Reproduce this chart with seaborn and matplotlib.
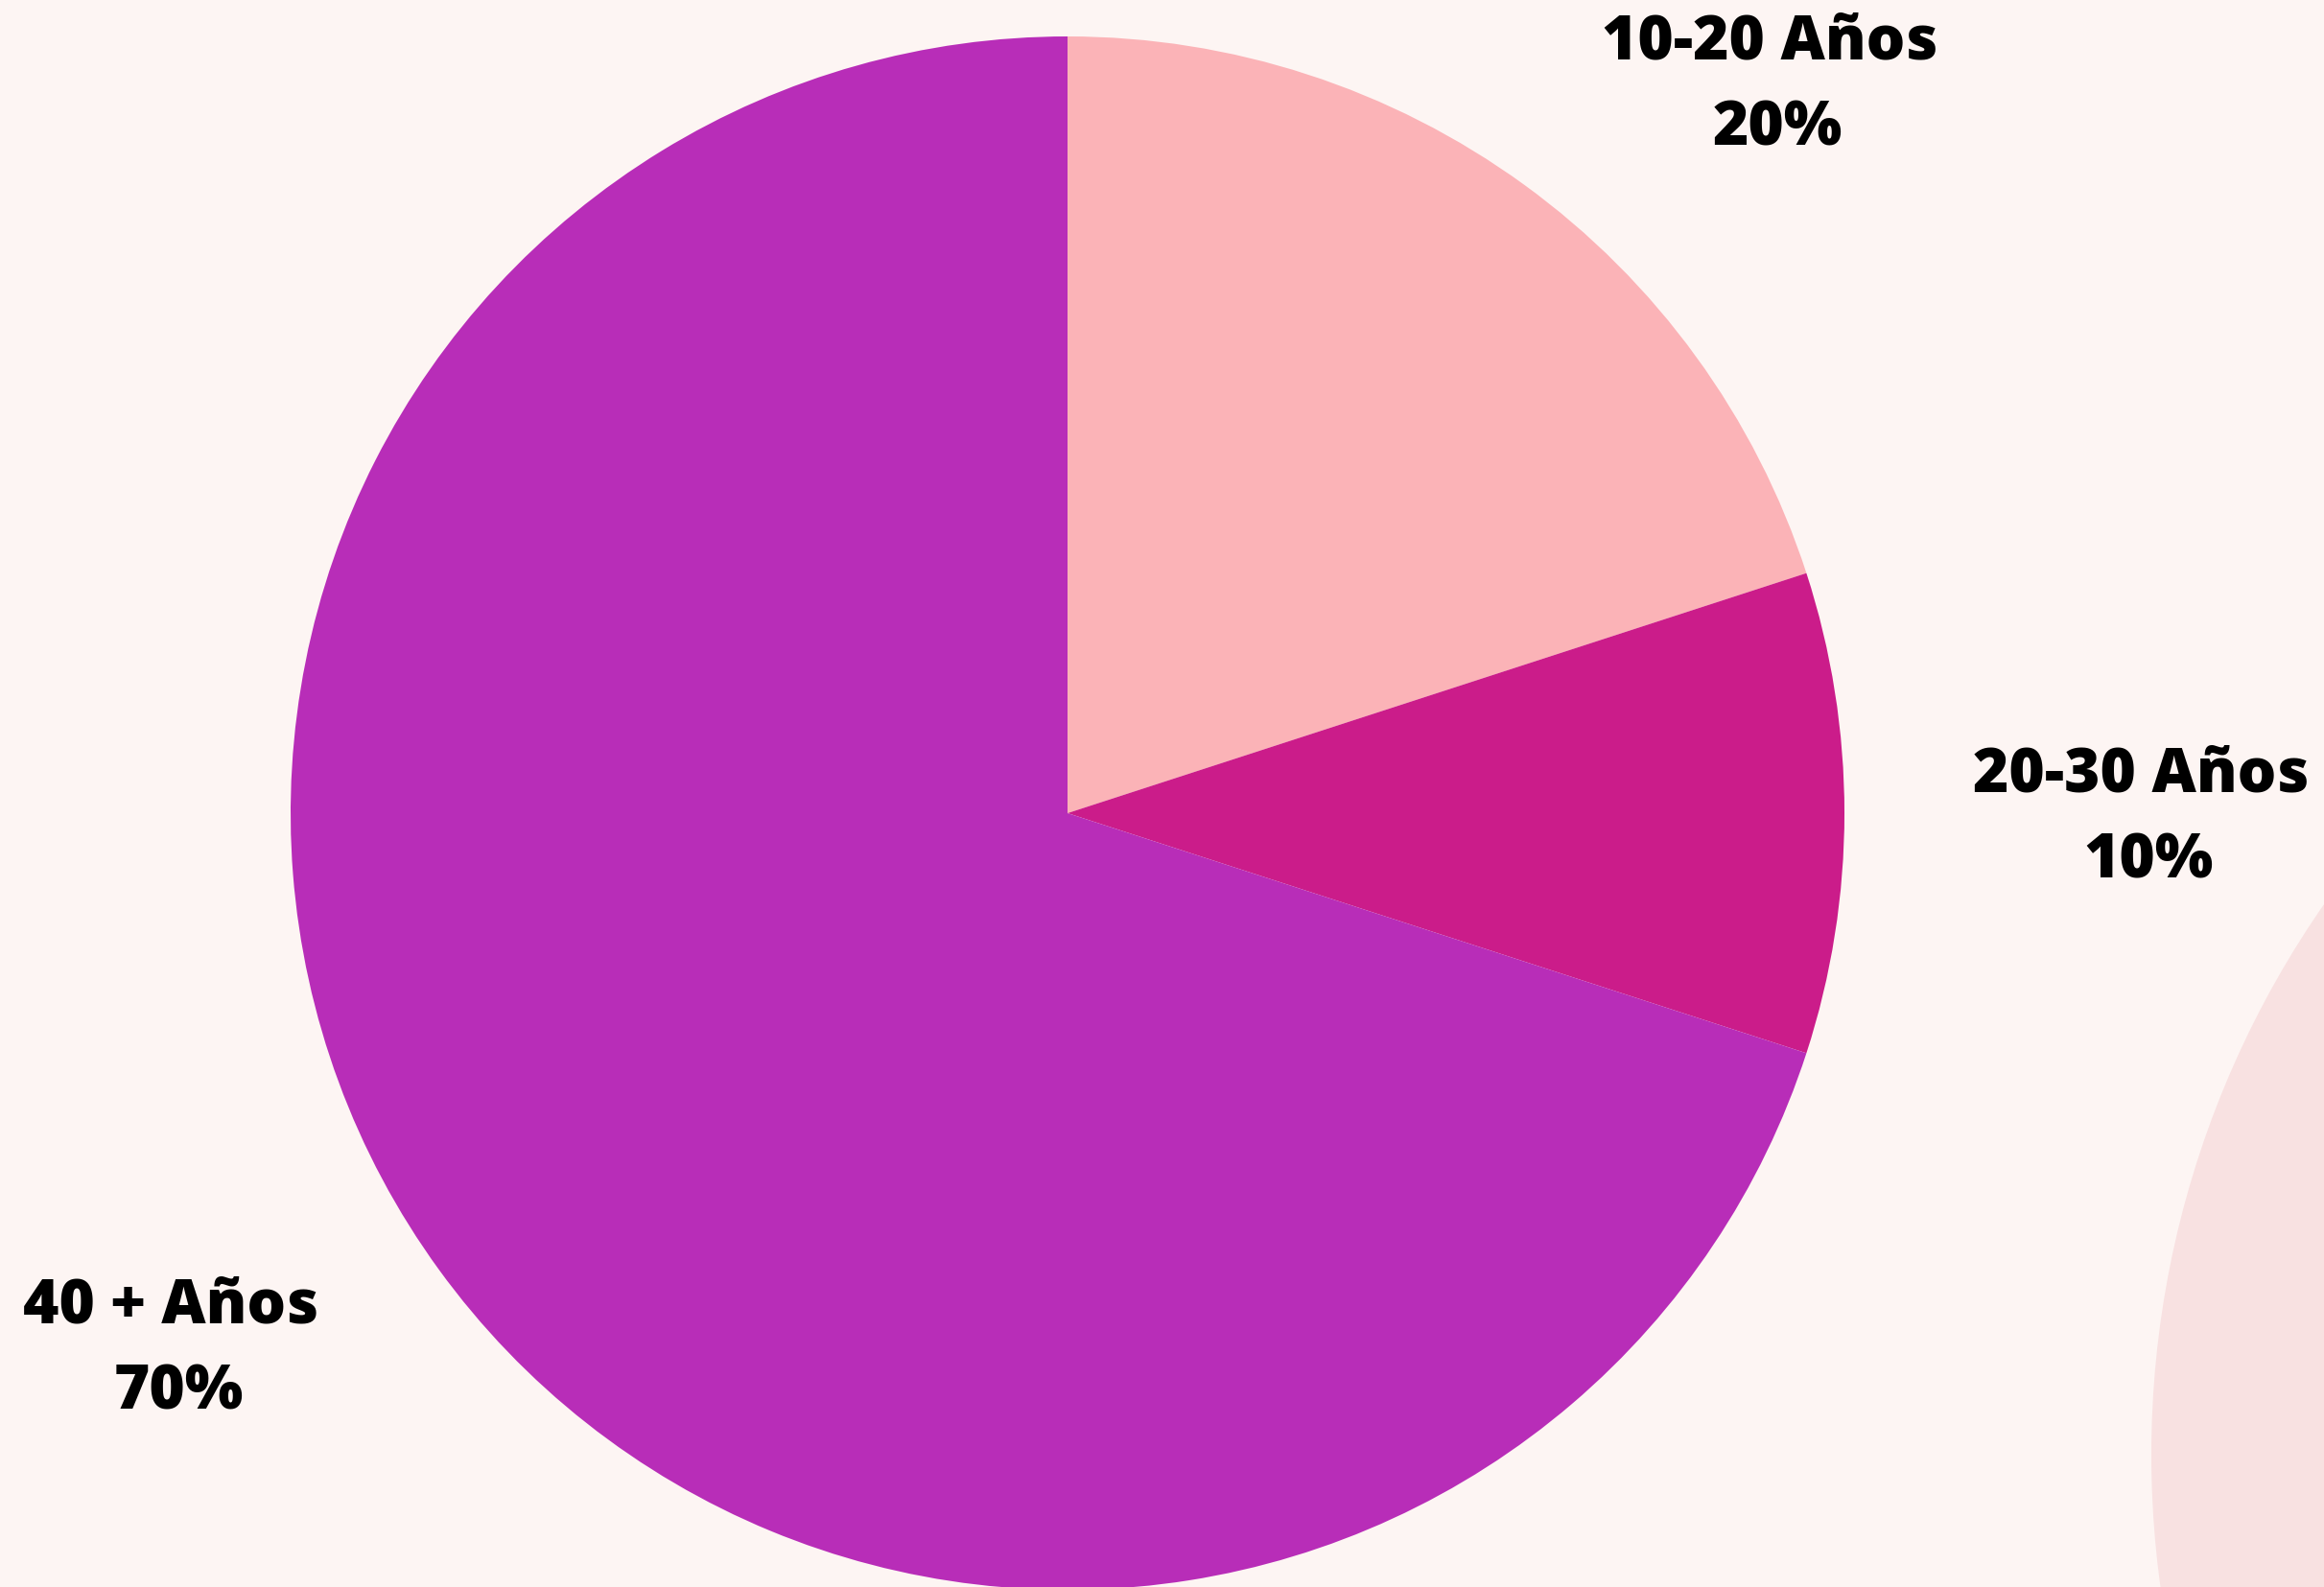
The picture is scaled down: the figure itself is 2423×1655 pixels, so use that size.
import matplotlib
matplotlib.use("Agg")
import matplotlib.pyplot as plt
from matplotlib.patches import Circle
import seaborn as sns

# data
groups = ["10-20 Años", "20-30 Años", "40 + Años"]
shares = [20, 10, 70]
slice_colors = ["#FBB3B7", "#CB1C8A", "#B82DB8"]

BG = "#FDF5F3"
DECO = "#F8E1E1"
W, H = 2423, 1655

sns.set_theme(style="white")
plt.rcParams["font.family"] = ["Open Sans", "DejaVu Sans"]

fig = plt.figure(figsize=(W / 100, H / 100), dpi=100, facecolor=BG)
ax = fig.add_axes([0, 0, 1, 1])
ax.set_facecolor(BG)

palette = sns.color_palette(slice_colors)

# pie in pixel-like data coords (y up)
cx, cy, r = 1113, H - 848, 810
ax.pie(shares, colors=palette, startangle=90, counterclock=False,
       center=(cx, cy), radius=r, wedgeprops=dict(linewidth=0))

# decorative circle bottom right
ax.add_patch(Circle((3248, H - 1517), 1005, color=DECO, lw=0, zorder=0))

ax.set_xlim(0, W)
ax.set_ylim(0, H)
ax.set_aspect("equal")
ax.axis("off")

# label centres (x, y of first line, in px from top)
label_pos = [(1845, 45), (2232, 809), (178, 1363)]
line_gap = 90
for name, pct, (x, y) in zip(groups, shares, label_pos):
    ax.text(x, H - y, name, ha="center", va="center", fontsize=46,
            fontweight="heavy", color="black")
    ax.text(x + 8, H - y - line_gap, f"{pct}%", ha="center", va="center",
            fontsize=46, fontweight="heavy", color="black")

fig.savefig("out.png", dpi=100, facecolor=BG)
